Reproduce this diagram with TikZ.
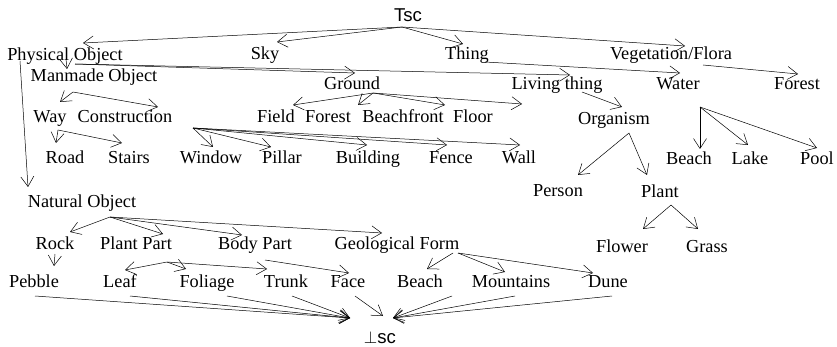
\documentclass[tikz,border=0pt]{standalone}
\usepackage{fontspec}
\setmainfont{Liberation Serif}
\newfontfamily\sansfont{Liberation Sans}
\usetikzlibrary{arrows.meta}

\begin{document}
\begin{tikzpicture}[
  x=1pt, y=-1pt,
  term/.style={anchor=base, inner sep=0pt, font=\fontsize{18.3}{20}\selectfont},
  bound/.style={anchor=base, inner sep=0pt, font=\sansfont\fontsize{18.6}{20}\selectfont},
  arrow/.style={-{Straight Barb[length=10pt,width=13pt]}, line width=0.5pt}
]
  \useasboundingbox (0,0) rectangle (837,347);

  \node[bound] (tsc) at (408,22) {Tsc};
  \node[term] (phys) at (65,61) {Physical Object};
  \node[term] (sky) at (265,60) {Sky};
  \node[term] (thing) at (467,60) {Thing};
  \node[term] (veg) at (671,60) {Vegetation/Flora};
  \node[term] (manmade) at (94,82) {Manmade Object};
  \node[term] (ground) at (352,90) {Ground};
  \node[term] (living) at (557,90) {Living thing};
  \node[term] (water) at (678,90) {Water};
  \node[term] (forestv) at (797,90) {Forest};
  \node[term] (way) at (50,123) {Way};
  \node[term] (constr) at (125,123) {Construction};
  \node[term] (field) at (276,123) {Field};
  \node[term] (forestg) at (328,123) {Forest};
  \node[term] (beachfront) at (403,123) {Beachfront};
  \node[term] (floor) at (473,123) {Floor};
  \node[term] (organism) at (614,125) {Organism};
  \node[term] (road) at (65,164) {Road};
  \node[term] (stairs) at (129,164) {Stairs};
  \node[term] (window) at (211,164) {Window};
  \node[term] (pillar) at (282,164) {Pillar};
  \node[term] (building) at (368,164) {Building};
  \node[term] (fence) at (451,164) {Fence};
  \node[term] (wall) at (519,164) {Wall};
  \node[term] (beachw) at (689,165) {Beach};
  \node[term] (lake) at (750,165) {Lake};
  \node[term] (pool) at (817,165) {Pool};
  \node[term] (person) at (558,197) {Person};
  \node[term] (plant) at (660,198) {Plant};
  \node[term] (natural) at (82,208) {Natural Object};
  \node[term] (rock) at (55,250) {Rock};
  \node[term] (plantpart) at (136,250) {Plant Part};
  \node[term] (bodypart) at (255,250) {Body Part};
  \node[term] (geo) at (397,250) {Geological Form};
  \node[term] (flower) at (622,252) {Flower};
  \node[term] (grass) at (707,252) {Grass};
  \node[term] (pebble) at (34,287) {Pebble};
  \node[term] (leaf) at (120,287) {Leaf};
  \node[term] (foliage) at (207,287) {Foliage};
  \node[term] (trunk) at (286,287) {Trunk};
  \node[term] (face) at (348,287) {Face};
  \node[term] (beachg) at (420,287) {Beach};
  \node[term] (mountains) at (511,287) {Mountains};
  \node[term] (dune) at (608,287) {Dune};
  \node[bound] (bot) at (380,343) {$\bot$sc};

  \draw[arrow] ([shift={(-6,5)}]tsc.base) -- ([shift={(18,-18)}]phys.base);
  \draw[arrow] ([shift={(-6,5)}]tsc.base) -- ([shift={(12,-18)}]sky.base);
  \draw[arrow] ([shift={(-6,5)}]tsc.base) -- ([shift={(-4,-16)}]thing.base);
  \draw[arrow] ([shift={(-6,5)}]tsc.base) -- ([shift={(14,-14)}]veg.base);

  \draw[arrow] ([shift={(1,-2)}]phys.base) -- ([shift={(-27,-13)}]manmade.base);
  \draw[arrow] ([shift={(-45,0)}]phys.base) -- ([shift={(-54,-21)}]natural.base);
  \draw[arrow] ([shift={(10,3)}]phys.base) -- ([shift={(3,-17)}]ground.base);
  \draw[arrow] ([shift={(10,3)}]phys.base) -- ([shift={(13,-15)}]living.base);
  \draw[arrow] ([shift={(18,2)}]thing.base) -- ([shift={(2,-17)}]water.base);
  \draw[arrow] ([shift={(32,5)}]veg.base) -- ([shift={(1,-16)}]forestv.base);

  \draw[arrow] ([shift={(-21,10)}]manmade.base) -- ([shift={(10,-21)}]way.base);
  \draw[arrow] ([shift={(-21,10)}]manmade.base) -- ([shift={(33,-16)}]constr.base);
  \draw[arrow] ([shift={(21,3)}]ground.base) -- ([shift={(17,-18)}]field.base);
  \draw[arrow] ([shift={(21,3)}]ground.base) -- ([shift={(30,-18)}]forestg.base);
  \draw[arrow] ([shift={(21,3)}]ground.base) -- ([shift={(42,-18)}]beachfront.base);
  \draw[arrow] ([shift={(21,3)}]ground.base) -- ([shift={(49,-19)}]floor.base);
  \draw[arrow] ([shift={(25,2)}]living.base) -- ([shift={(8,-18)}]organism.base);

  \draw[arrow] ([shift={(8,7)}]way.base) -- ([shift={(-9,-21)}]road.base);
  \draw[arrow] ([shift={(8,7)}]way.base) -- ([shift={(-7,-21)}]stairs.base);
  \draw[arrow] ([shift={(68,5)}]constr.base) -- ([shift={(2,-17)}]window.base);
  \draw[arrow] ([shift={(68,5)}]constr.base) -- ([shift={(-11,-17)}]pillar.base);
  \draw[arrow] ([shift={(68,5)}]constr.base) -- ([shift={(-1,-19)}]building.base);
  \draw[arrow] ([shift={(68,5)}]constr.base) -- ([shift={(-4,-19)}]fence.base);
  \draw[arrow] ([shift={(68,5)}]constr.base) -- ([shift={(1,-19)}]wall.base);
  \draw[arrow] ([shift={(22,17)}]water.base) -- ([shift={(11,-16)}]beachw.base);
  \draw[arrow] ([shift={(22,17)}]water.base) -- ([shift={(-2,-20)}]lake.base);
  \draw[arrow] ([shift={(22,17)}]water.base) -- ([shift={(0,-17)}]pool.base);
  \draw[arrow] ([shift={(15,8)}]organism.base) -- ([shift={(20,-22)}]person.base);
  \draw[arrow] ([shift={(15,8)}]organism.base) -- ([shift={(-13,-23)}]plant.base);
  \draw[arrow] ([shift={(11,7)}]plant.base) -- ([shift={(21,-23)}]flower.base);
  \draw[arrow] ([shift={(11,7)}]plant.base) -- ([shift={(-9,-23)}]grass.base);

  \draw[arrow] ([shift={(28,9)}]natural.base) -- ([shift={(15,-18)}]rock.base);
  \draw[arrow] ([shift={(28,9)}]natural.base) -- ([shift={(27,-16)}]plantpart.base);
  \draw[arrow] ([shift={(28,9)}]natural.base) -- ([shift={(-13,-15)}]bodypart.base);
  \draw[arrow] ([shift={(28,9)}]natural.base) -- ([shift={(-15,-17)}]geo.base);
  \draw[arrow] ([shift={(0,4)}]rock.base) -- ([shift={(20,-21)}]pebble.base);
  \draw[arrow] ([shift={(31,12)}]plantpart.base) -- ([shift={(5,-17)}]leaf.base);
  \draw[arrow] ([shift={(31,12)}]plantpart.base) -- ([shift={(-21,-18)}]foliage.base);
  \draw[arrow] ([shift={(31,12)}]plantpart.base) -- ([shift={(-19,-18)}]trunk.base);
  \draw[arrow] ([shift={(10,10)}]bodypart.base) -- ([shift={(1,-14)}]face.base);
  \draw[arrow] ([shift={(56,3)}]geo.base) -- ([shift={(7,-18)}]beachg.base);
  \draw[arrow] ([shift={(61,3)}]geo.base) -- ([shift={(-6,-15)}]mountains.base);
  \draw[arrow] ([shift={(61,3)}]geo.base) -- ([shift={(-15,-14)}]dune.base);

  \draw[arrow] ([shift={(1,9)}]pebble.base) -- ([shift={(-30,-25)}]bot.base);
  \draw[arrow] ([shift={(10,9)}]leaf.base) -- ([shift={(-30,-25)}]bot.base);
  \draw[arrow] ([shift={(20,9)}]foliage.base) -- ([shift={(-30,-25)}]bot.base);
  \draw[arrow] ([shift={(6,9)}]trunk.base) -- ([shift={(-30,-25)}]bot.base);
  \draw[arrow] ([shift={(7,9)}]face.base) -- ([shift={(3,-27)}]bot.base);
  \draw[arrow] ([shift={(32,9)}]beachg.base) -- ([shift={(13,-25)}]bot.base);
  \draw[arrow] ([shift={(4,9)}]mountains.base) -- ([shift={(13,-25)}]bot.base);
  \draw[arrow] ([shift={(4,9)}]dune.base) -- ([shift={(13,-25)}]bot.base);
\end{tikzpicture}
\end{document}
